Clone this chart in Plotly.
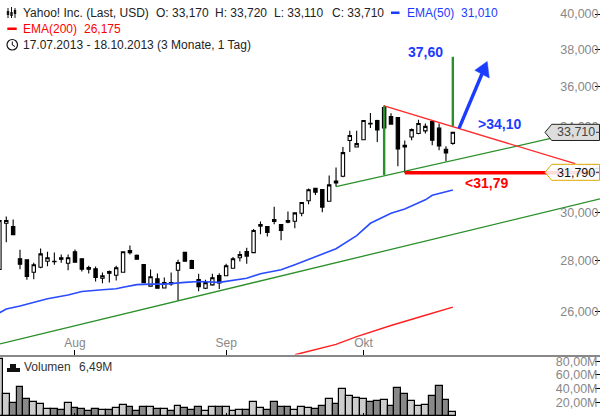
import math
import plotly.graph_objects as go

# Prices as printed on the chart (shown with a decimal comma)
opens = [27.64,29.55,29.41,28.07,28.03,27.53,27.73,27.97,27.97,28.11,27.89,28.36,28.07,27.72,27.67,27.29,27.56,27.41,27.53,28.41,28.21,27.84,26.98,27.27,26.91,27.12,27.61,28.33,28.00,27.24,26.90,27.03,27.40,27.39,27.69,28.11,28.37,28.32,29.43,29.41,29.71,29.50,29.67,29.64,29.98,30.53,31.08,31.03,30.51,31.41,31.63,33.31,33.00,33.35,34.15,34.29,34.94,34.48,34.44,33.08,33.48,33.65,33.78,34.24,33.91,32.89,33.17]
highs = [29.76,29.84,29.71,28.44,28.04,27.91,28.49,28.36,28.33,28.24,28.24,28.45,28.07,27.79,27.76,27.52,27.60,27.79,28.36,28.62,28.24,27.84,27.64,27.48,27.32,27.52,28.03,28.33,28.03,27.47,27.23,27.47,27.49,27.87,28.14,28.38,28.52,29.31,29.63,29.41,30.27,29.50,30.06,30.00,30.45,31.07,31.11,31.03,31.67,32.03,33.00,33.78,33.78,34.29,34.66,34.33,35.05,34.65,34.44,33.31,33.89,34.33,34.14,34.30,34.14,33.03,33.72]
lows = [27.61,28.75,29.07,27.65,27.23,27.25,27.69,27.77,27.83,27.91,27.61,27.92,27.56,27.48,27.16,27.09,27.12,27.20,27.53,28.25,28.04,27.12,26.97,26.90,26.90,27.00,26.42,27.97,27.68,26.78,26.87,27.00,26.87,27.37,27.67,27.96,27.87,28.32,29.08,28.99,29.51,28.83,29.55,29.34,29.85,30.38,30.79,30.03,30.51,31.17,31.59,32.76,32.98,33.35,33.92,33.24,33.90,34.11,32.09,31.79,33.32,33.61,33.65,33.08,32.84,32.32,33.11]
closes = [29.67,29.67,29.07,27.85,27.36,27.83,28.27,28.11,27.95,28.05,28.11,27.93,27.65,27.65,27.32,27.39,27.49,27.71,28.36,28.32,28.05,27.12,27.35,26.90,27.12,27.07,27.92,27.97,27.68,26.96,27.12,27.31,27.11,27.79,28.07,28.24,28.18,29.24,29.50,29.16,29.63,29.24,29.60,30.00,30.45,31.02,30.91,30.25,31.24,31.33,32.73,33.55,33.16,34.29,34.12,33.82,33.92,34.11,32.90,33.00,33.84,34.14,34.00,33.32,33.05,32.72,33.71]
volumes = [83.2,32.8,19.5,42.7,25.4,20.5,18.0,10.6,10.6,9.1,19.5,12.1,10.6,7.7,10.6,9.1,9.1,12.1,16.5,13.6,7.7,13.6,13.6,10.6,10.6,7.7,15.1,12.1,9.1,13.6,7.7,13.6,13.6,13.6,7.7,9.1,9.1,21.0,12.1,9.1,21.0,13.6,13.6,9.1,13.6,12.1,10.6,15.1,25.4,18.0,38.8,29.9,26.9,25.4,21.0,22.5,23.9,15.1,40.2,32.8,22.5,15.1,16.5,29.9,43.2,23.9,6.49]
volume_up = [1,1,0,0,0,1,1,1,0,0,1,0,0,0,0,1,0,1,1,0,0,0,1,0,1,0,1,0,0,0,1,1,0,1,1,1,0,1,1,0,0,0,0,1,1,1,0,0,1,0,1,1,1,1,0,0,1,0,0,0,1,1,1,0,0,0,1]

ema50_x = [0,1,3,5,7,10,12,15,17,18,20,22,24,27,29,32,36,38,41,43,46,49,52,54,57,59,62,63,66]
ema50 = [25.96,26.10,26.22,26.35,26.49,26.64,26.77,26.84,26.88,26.94,27.04,27.06,27.06,27.13,27.16,27.13,27.29,27.47,27.63,27.83,28.16,28.48,29.03,29.55,29.98,30.17,30.57,30.77,31.01]
ema200_x = [43,49,52,57,62,66]
ema200 = [24.43,24.80,25.08,25.49,25.87,26.175]

support_x = [0.087,87.42]
support = [24.82,30.61]
channel_low_x = [49,80.4]
channel_low = [31.16,33.42]
channel_high_x = [56,83.8]
channel_high = [35.02,32.21]
level_x = [59,87.42]
level = [31.79,31.79]
height_a_x = [56,56]
height_a = [35.0,31.69]
height_b_x = [66,66]
height_b = [37.6,34.0]
arrow_x = [66.9,70.25]
arrow_p = [33.9,36.69]
head_x = [71.0,69.2,71.3,71.0]
head_p = [37.35,36.87,36.46,37.35]

price_ticks = [26,28,30,32,34,36,38,40]
price_labels = ["26,000","28,000","30,000","32,000","34,000","36,000","38,000","40,000"]
vol_ticks = [20,40,60,80]
vol_labels = ["20,00M","40,00M","60,00M","80,00M"]
month_pos = [11,33,53]
month_labels = ["Aug","Sep","Okt"]

W, H = 600, 416
BLUE = "#1a3cff"; RED = "#ff0000"; GREEN = "#2b8f2b"; GREY = "#888888"
FONT = "Liberation Sans"
xs = list(range(len(opens)))

def px(x): return x / W
def py(y): return 1 - y / H

fig = go.Figure()
fig.add_trace(go.Bar(x=xs, y=volumes, xaxis="x2", yaxis="y2", width=1.0,
    marker=dict(color=["#cccccc" if u else "#888888" for u in volume_up], line=dict(color="black", width=1.2))))

def line(x, y, color, width):
    fig.add_trace(go.Scatter(x=x, y=y, mode="lines", line=dict(color=color, width=width), hoverinfo="skip"))

line(support_x, support, GREEN, 1.3)
line(ema50_x, ema50, "#2a4cff", 1.6)
line(ema200_x, ema200, "#ff2020", 1.5)
fig.add_trace(go.Candlestick(x=xs, open=opens, high=highs, low=lows, close=closes, whiskerwidth=0,
    increasing=dict(line=dict(color="black", width=1.1), fillcolor="white"),
    decreasing=dict(line=dict(color="black", width=1.1), fillcolor="black")))
line(channel_low_x, channel_low, GREEN, 1.3)
line(channel_high_x, channel_high, "#ff2a2a", 1.3)
line(height_a_x, height_a, GREEN, 2.4)
line(height_b_x, height_b, GREEN, 2.4)
line(level_x, level, RED, 3.4)
line(arrow_x, arrow_p, BLUE, 3.4)
fig.add_trace(go.Scatter(x=head_x, y=head_p, mode="lines", fill="toself", fillcolor=BLUE,
    line=dict(color=BLUE, width=0.5), hoverinfo="skip"))

shapes = []
def rect(x0, y0, x1, y1, color):
    shapes.append(dict(type="rect", xref="paper", yref="paper", x0=px(x0), x1=px(x1), y0=py(y0), y1=py(y1),
                       fillcolor=color, line=dict(width=0)))
def seg(x0, y0, x1, y1, color="black", w=1):
    shapes.append(dict(type="line", xref="paper", yref="paper", x0=px(x0), x1=px(x1), y0=py(y0), y1=py(y1),
                       line=dict(color=color, width=w)))
def pentagon(top, bottom, fill, border):
    mid = (top + bottom) / 2
    pts = [(545, mid), (551.7, top), (599.5, top), (599.5, bottom), (551.7, bottom)]
    path = "M " + " L ".join(f"{px(a):.5f},{py(b):.5f}" for a, b in pts) + " Z"
    shapes.append(dict(type="path", xref="paper", yref="paper", path=path, fillcolor=fill, line=dict(color=border, width=1)))

pentagon(124.3, 140.5, "#dddddd", "#222222")
pentagon(164.3, 180.3, "rgba(255,255,255,0.86)", "#e0a800")
seg(596, 132.3, 599, 132.3, "#333333")
seg(596, 172.3, 599, 172.3, "#333333")

# header icons
for cx, t, b, t2, b2 in [(8, 8, 18, 11, 15), (11.5, 7, 18, 12, 16), (15, 8, 18, 10, 14)]:
    seg(cx, t, cx, b, "#111111", 1)
    rect(cx - 1.2, t2, cx + 1.2, b2, "#111111")
rect(7.3, 27.5, 16.7, 30, RED)
rect(391, 11.5, 399.5, 14, BLUE)
shapes.append(dict(type="circle", xref="paper", yref="paper", x0=px(7), x1=px(17.5), y0=py(39.5), y1=py(50),
                   line=dict(color="#111111", width=1.2)))
seg(12.3, 41.5, 12.3, 45, "#111111", 1)
seg(12.3, 45, 15, 46.5, "#111111", 1)
rect(7, 368, 20, 372, "#111111")
rect(10, 364, 16, 372, "#111111")

notes = []
def text(x, y, s, color="#222222", size=12, bold=False, anchor="left"):
    notes.append(dict(xref="paper", yref="paper", x=px(x), y=py(y), text=f"<b>{s}</b>" if bold else s, showarrow=False,
                      xanchor=anchor, yanchor="middle", font=dict(family=FONT, size=size, color=color), borderpad=0, borderwidth=0))

text(23, 13, "Yahoo! Inc. (Last, USD)")
text(156, 13, "O: 33,170")
text(215, 13, "H: 33,720")
text(274, 13, "L: 33,110")
text(332, 13, "C: 33,710")
text(406.5, 13, "EMA(50)", BLUE)
text(460.5, 13, "31,010", BLUE)
text(23, 29, "EMA(200)", RED)
text(84, 29, "26,175", RED)
text(23, 44.5, "17.07.2013 - 18.10.2013 (3 Monate, 1 Tag)")
text(23.5, 367, "Volumen", "#333333")
text(78.5, 367, "6,49M", "#333333")
text(425, 52, "37,60", BLUE, 14, True, "center")
text(478, 124.3, "&gt;34,10", BLUE, 14, True)
text(465, 183.5, "&lt;31,79", RED, 14, True)
text(557, 132.3, "33,710", "#444444", 12.5)
text(557, 172.5, "31,790", "#111111", 12.5)

axis_range = [0.087, 87.42]
VOL_TOP = 66.0  # height in px of the volume axis, reaching just past the pane's rule
fig.update_layout(
    width=W, height=H, margin=dict(l=0, r=0, t=0, b=0), autosize=False,
    paper_bgcolor="white", plot_bgcolor="rgba(0,0,0,0)", showlegend=False, bargap=0,
    shapes=shapes, annotations=notes, font=dict(family=FONT, size=12, color=GREY),
    xaxis=dict(domain=[0, 1], range=axis_range, anchor="y", rangeslider=dict(visible=False), showgrid=False,
               zeroline=False, showline=True, linecolor=GREY, linewidth=2, tickmode="array", tickvals=month_pos,
               ticktext=month_labels, ticks="inside", ticklen=5, tickcolor="black", tickwidth=1,
               ticklabelposition="inside", tickfont=dict(family=FONT, size=12, color=GREY)),
    yaxis=dict(domain=[61.5 / H, 1], type="log", range=[math.log10(24.44), math.log10(40.82)], side="right", anchor="x",
               showgrid=False, zeroline=False, showline=False, tickmode="array", tickvals=price_ticks, ticktext=price_labels,
               ticks="inside", ticklen=5, tickcolor="black", tickwidth=1, ticklabelposition="inside", ticklabelstandoff=-4,
               tickfont=dict(family=FONT, size=12.5, color=GREY)),
    xaxis2=dict(domain=[0, 1], range=axis_range, anchor="y2", showgrid=False, zeroline=False, showline=False,
                tickmode="array", tickvals=month_pos, ticktext=["", "", ""], ticks="inside", ticklen=3, tickcolor="black"),
    yaxis2=dict(domain=[0, VOL_TOP / H], range=[0, VOL_TOP / 13.7 * 20], side="right", anchor="x2", showgrid=False, zeroline=False, showline=False,
                tickmode="array", tickvals=vol_ticks, ticktext=vol_labels, ticks="inside", ticklen=5, tickcolor="black", tickwidth=1,
                ticklabelposition="inside", ticklabelstandoff=-3,
                tickfont=dict(family=FONT, size=12.5, color=GREY)),
)
fig.write_html("out.html", config={"displayModeBar": False},
               post_script="document.body.style.margin='0';document.documentElement.style.overflow='hidden';")
